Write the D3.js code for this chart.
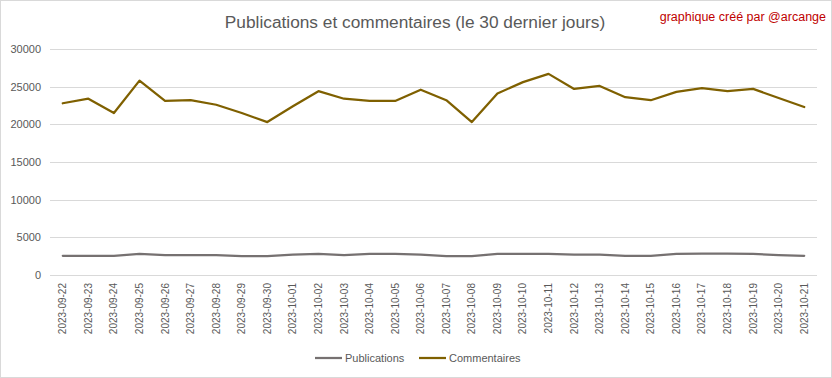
<!DOCTYPE html>
<html><head><meta charset="utf-8">
<script src="https://cdn.jsdelivr.net/npm/d3@7"></script>
<style>body{margin:0;background:#fff;} svg{display:block;}</style>
</head><body>
<script>
const dates = ["2023-09-22","2023-09-23","2023-09-24","2023-09-25","2023-09-26","2023-09-27","2023-09-28","2023-09-29","2023-09-30","2023-10-01","2023-10-02","2023-10-03","2023-10-04","2023-10-05","2023-10-06","2023-10-07","2023-10-08","2023-10-09","2023-10-10","2023-10-11","2023-10-12","2023-10-13","2023-10-14","2023-10-15","2023-10-16","2023-10-17","2023-10-18","2023-10-19","2023-10-20","2023-10-21"];
const publications = [2550,2550,2550,2800,2650,2650,2650,2500,2500,2700,2800,2650,2800,2800,2700,2500,2500,2800,2800,2800,2700,2700,2550,2550,2800,2850,2850,2800,2650,2550];
const commentaires = [22800,23400,21500,25800,23100,23200,22600,21500,20300,22400,24400,23400,23100,23100,24600,23200,20300,24100,25600,26700,24700,25100,23600,23200,24300,24800,24400,24700,23500,22300];
const yTicks = [0,5000,10000,15000,20000,25000,30000];
const seriesNames = ["Publications","Commentaires"];
const colors = ["#767171","#7f6000"];

const W = 832, H = 378;
const font = "'Liberation Sans', Arial, sans-serif";
const svg = d3.select("body").append("svg").attr("width", W).attr("height", H);
svg.append("rect").attr("x",0.5).attr("y",0.5).attr("width",W-1).attr("height",H-1).attr("fill","#fff").attr("stroke","#d9d9d9");

const x = d3.scaleBand().domain(dates).range([50, 817]);
const y = d3.scaleLinear().domain([0, 30000]).range([275, 49]);

// gridlines
svg.append("g").selectAll("line").data(yTicks).join("line")
  .attr("x1", 50).attr("x2", 817)
  .attr("y1", d => Math.round(y(d)) + 0.5).attr("y2", d => Math.round(y(d)) + 0.5)
  .attr("stroke", "#d9d9d9").attr("stroke-width", 1);

// y axis
const yAxis = svg.append("g").attr("transform", "translate(41,0)")
  .call(d3.axisLeft(y).tickValues(yTicks).tickSize(0).tickPadding(0).tickFormat(d3.format("d")));
yAxis.select(".domain").remove();
yAxis.selectAll("text").attr("fill", "#595959").style("font-family", font).style("font-size", "11px");

// x axis
const xAxis = svg.append("g").attr("transform", "translate(0,275)")
  .call(d3.axisBottom(x).tickSize(0));
xAxis.select(".domain").remove();
xAxis.selectAll("text")
  .attr("transform", "rotate(-90)")
  .attr("x", -8).attr("y", 0).attr("dy", "0.35em")
  .attr("text-anchor", "end")
  .attr("fill", "#595959").style("font-family", font).style("font-size", "10px");

const line = d3.line().x((d, i) => x(dates[i]) + x.bandwidth() / 2).y(d => y(d));
[publications, commentaires].forEach((s, k) => {
  svg.append("path").datum(s).attr("d", line)
    .attr("fill", "none").attr("stroke", colors[k]).attr("stroke-width", 2.25)
    .attr("stroke-linejoin", "round").attr("stroke-linecap", "round");
});

// title
svg.append("text").attr("x", 415).attr("y", 28).attr("text-anchor", "middle")
  .attr("fill", "#595959").style("font-family", font).style("font-size", "17.3px")
  .text("Publications et commentaires (le 30 dernier jours)");
svg.append("text").attr("x", 826).attr("y", 21).attr("text-anchor", "end")
  .attr("fill", "#c00000").style("font-family", font).style("font-size", "12.5px")
  .text("graphique créé par @arcange");

// legend
const legendItems = [{x: 315, name: seriesNames[0], c: colors[0]}, {x: 419, name: seriesNames[1], c: colors[1]}];
legendItems.forEach(it => {
  svg.append("line").attr("x1", it.x).attr("x2", it.x + 27).attr("y1", 358).attr("y2", 358)
    .attr("stroke", it.c).attr("stroke-width", 2.25);
  svg.append("text").attr("x", it.x + 30).attr("y", 358).attr("dy", "0.35em")
    .attr("fill", "#595959").style("font-family", font).style("font-size", "11px").text(it.name);
});
</script>
</body></html>
